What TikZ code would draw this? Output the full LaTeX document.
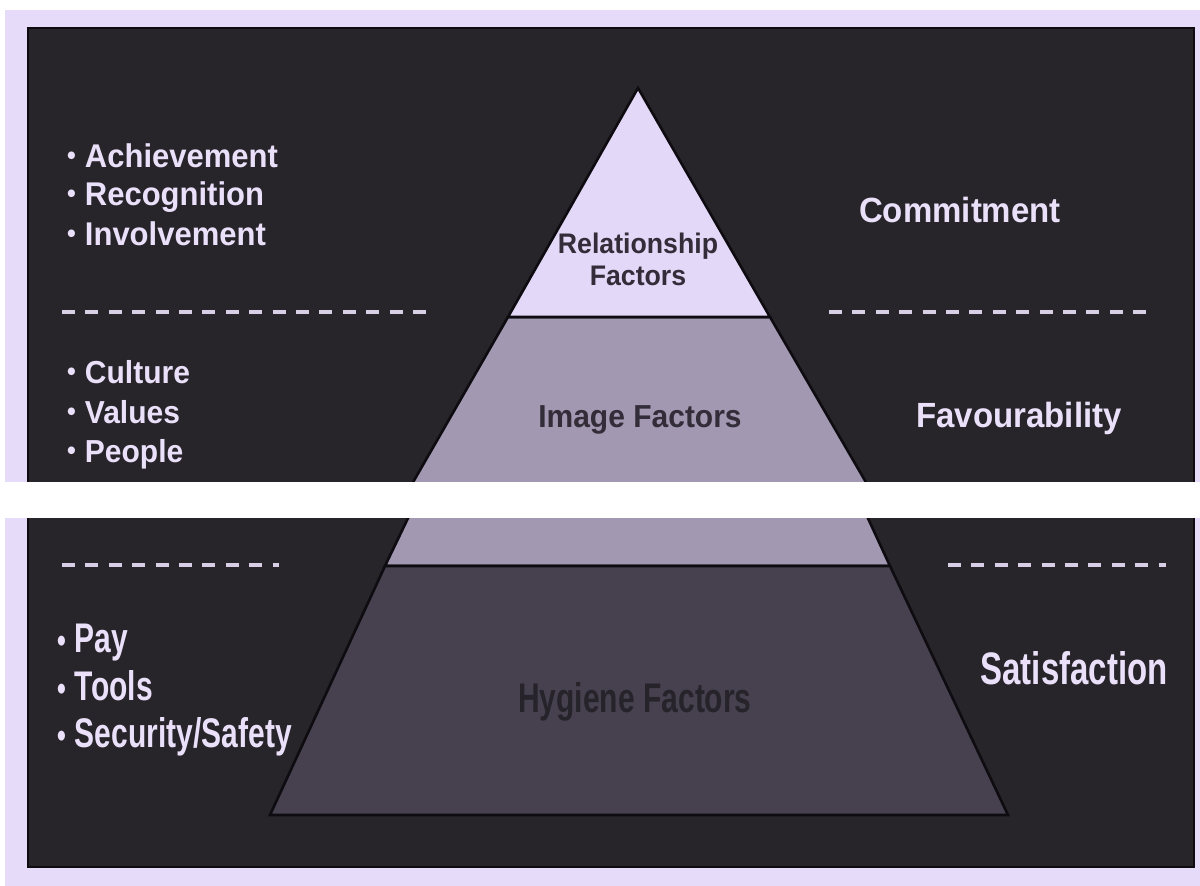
\documentclass[tikz,border=0pt]{standalone}
\usepackage{fontspec}
\setmainfont{Liberation Sans}
\usepackage{graphicx}
\definecolor{lavbg}{RGB}{231,219,250}
\definecolor{panel}{RGB}{40,37,42}
\definecolor{panelrim}{RGB}{14,12,16}
\definecolor{toptri}{RGB}{228,216,248}
\definecolor{midband}{RGB}{162,152,178}
\definecolor{lowband}{RGB}{71,65,79}
\definecolor{lighttext}{RGB}{234,224,250}
\definecolor{darktext}{RGB}{50,45,56}
\definecolor{hygtext}{RGB}{38,35,43}
\definecolor{dashcol}{RGB}{216,207,230}
\newcommand\fsz[1]{\fontsize{#1}{#1}\selectfont\bfseries}
\newcommand\up[1]{\scalebox{1}[1.06]{#1}}
\newcommand\low[1]{\scalebox{1}[1.38]{#1}}
% small raised bullet in front of a list entry
\newcommand\bul[1]{\raisebox{#1}{\fontsize{25}{25}\selectfont •}\hspace{9pt}}
\begin{document}
\begin{tikzpicture}[x=1pt,y=-1pt,
  edge/.style={draw=panelrim,line width=2.6pt,line join=miter},
  dashline/.style={draw=dashcol,line width=4.5pt,dash pattern=on 13pt off 10.4pt},
  lt/.style={text=lighttext,inner sep=0pt,anchor=base west},
  rt/.style={text=lighttext,inner sep=0pt,anchor=base},
  ct/.style={text=darktext,inner sep=0pt,anchor=base}]
\useasboundingbox (0,0) rectangle (1200,886);
% page and frame
\fill[white] (0,0) rectangle (1200,886);
\fill[lavbg] (5,10) rectangle (1200,886);
\draw[draw=panelrim,line width=2.5pt,fill=panel] (28,28) rectangle (1194,867);

% upper part of the pyramid
\draw[edge,fill=midband] (508,317) -- (412,484) -- (867,484) -- (770,317) -- cycle;
\draw[edge,fill=toptri] (638,88) -- (508,317) -- (770,317) -- cycle;

% lower part of the pyramid
\draw[edge,fill=midband] (410,514) -- (385,566) -- (890,566) -- (866,514) -- cycle;
\draw[edge,fill=lowband] (385,566) -- (270,815) -- (1008,815) -- (890,566) -- cycle;

% white break across the figure
\fill[white] (0,482) rectangle (1200,518);

% dashed separators
\draw[dashline] (62,312) -- (433,312);
\draw[dashline] (829,312) -- (1152,312);
\draw[dashline] (62,565) -- (279,565);
\draw[dashline] (948,565) -- (1166,565);

% left lists
\node[lt] (achv) at (67,167) {\fsz{31}\up{\bul{2pt}Achievement}};
\node[lt] (recg) at (67,205) {\fsz{31}\up{\bul{2pt}Recognition}};
\node[lt] (invl) at (67,245) {\fsz{31}\up{\bul{2pt}Involvement}};

\node[lt] (cult) at (67,383) {\fsz{30}\up{\bul{2pt}Culture}};
\node[lt] (vals) at (67,423) {\fsz{30}\up{\bul{2pt}Values}};
\node[lt] (peop) at (67,462) {\fsz{30}\up{\bul{2pt}People}};

\node[lt] (pay) at (57,652) {\fsz{30}\low{\bul{0pt}Pay}};
\node[lt] (tools) at (57,700) {\fsz{30}\low{\bul{0pt}Tools}};
\node[lt] (secu) at (57,747) {\fsz{30}\low{\bul{0pt}Security/Safety}};

% right labels
\node[rt] (commit) at (960,222) {\fsz{33}\up{Commitment}};
\node[rt] (favour) at (1019,427) {\fsz{33}\up{Favourability}};
\node[rt] (satis) at (1074,684) {\fsz{33}\low{Satisfaction}};

% pyramid labels
\node[ct] (rel1) at (638,253) {\fsz{26.7}\up{Relationship}};
\node[ct] (rel2) at (638,285) {\fsz{26.7}\up{Factors}};
\node[ct] (image) at (640,427) {\fsz{30}\up{Image Factors}};
\node[ct,text=hygtext] (hyg) at (635,712) {\fsz{30}\low{Hygiene Factors}};
\end{tikzpicture}
\end{document}
